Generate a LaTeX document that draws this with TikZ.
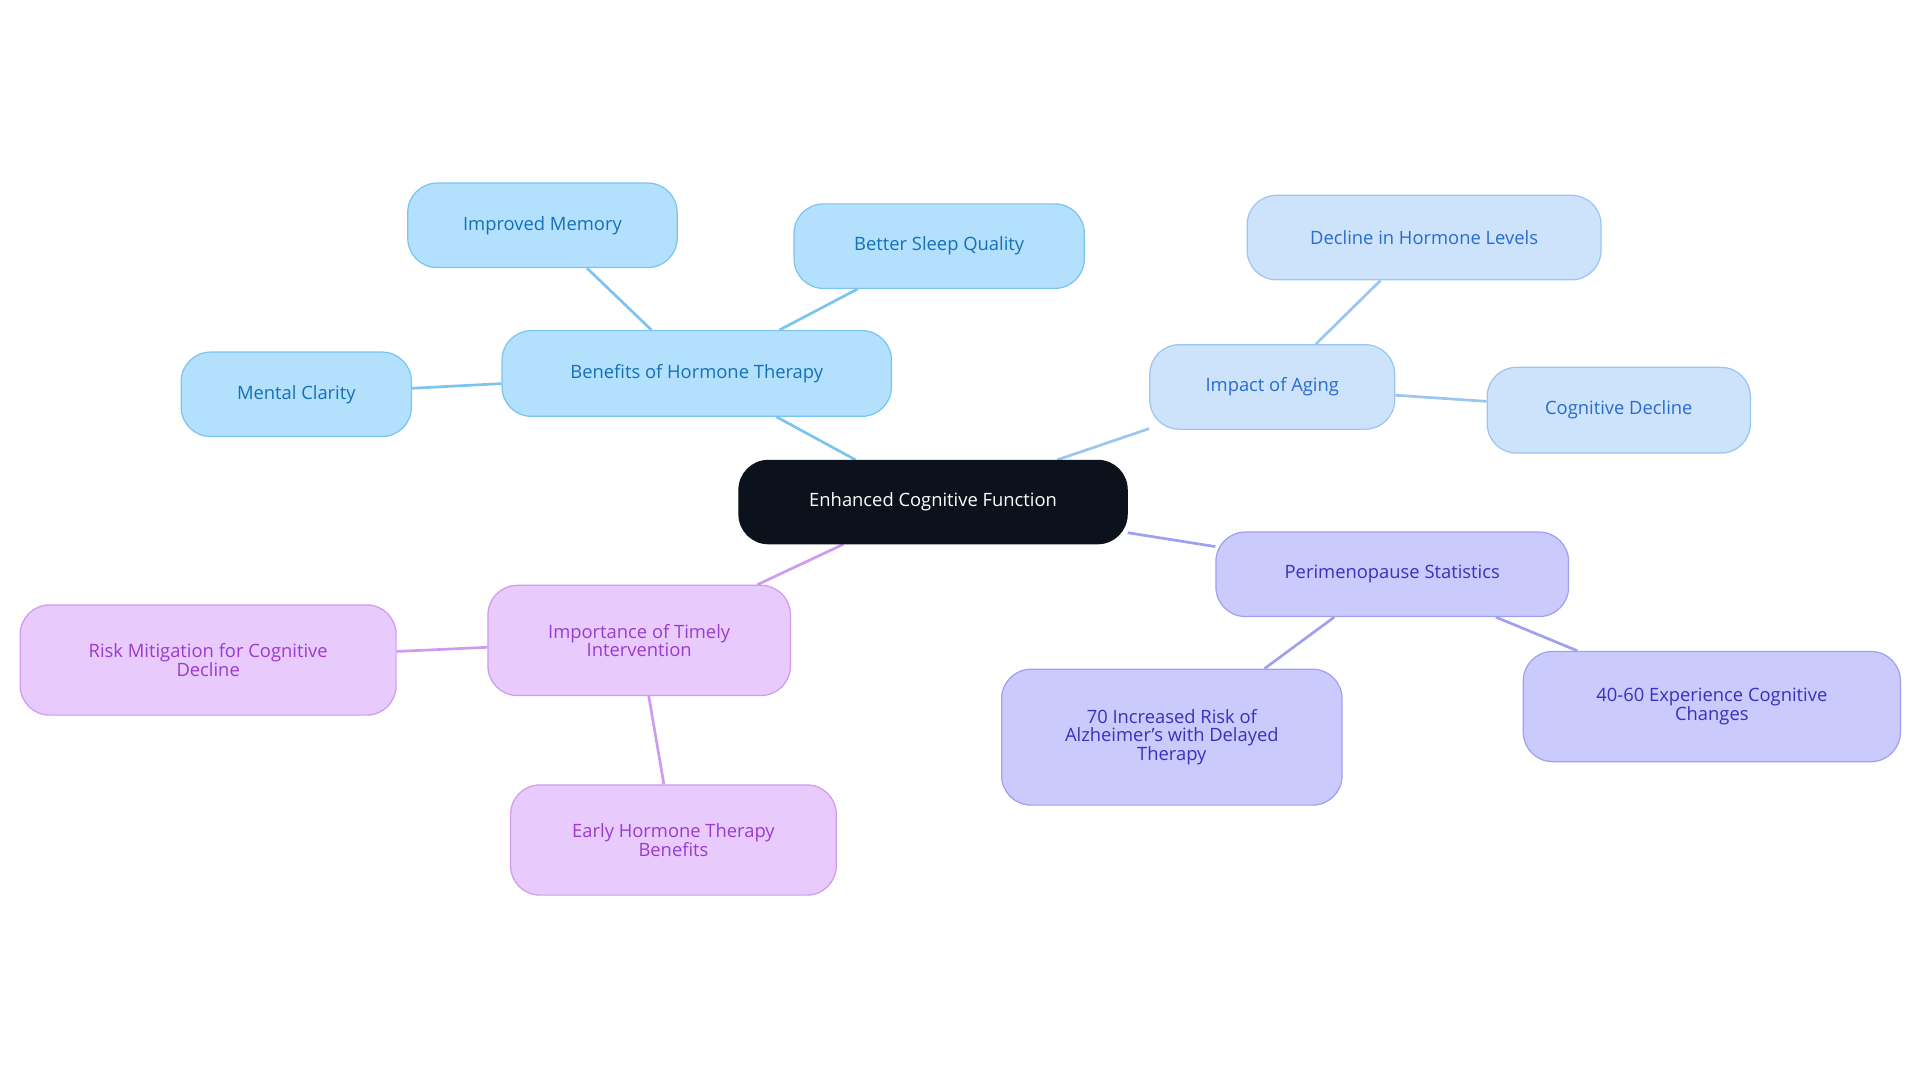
\documentclass[tikz,border=0pt]{standalone}
\usepackage{fontspec}
\setmainfont{Open Sans}
\usetikzlibrary{backgrounds}
\definecolor{cdark}{HTML}{0B121B}
\definecolor{bfill}{HTML}{B3E0FD}\definecolor{bline}{HTML}{7CC4F0}\definecolor{btext}{HTML}{1570B8}
\definecolor{afill}{HTML}{CCE3FB}\definecolor{aline}{HTML}{9CC5F0}\definecolor{atext}{HTML}{2A6BD0}
\definecolor{pfill}{HTML}{CACBFC}\definecolor{pline}{HTML}{A0A0F0}\definecolor{ptext}{HTML}{3C2FC0}
\definecolor{ifill}{HTML}{E8CAFC}\definecolor{iline}{HTML}{D09AF0}\definecolor{itext}{HTML}{9A3BD0}
\tikzset{
 box/.style={rounded corners=24pt,draw,line width=1pt,align=center,font=\fontsize{15}{15}\selectfont,inner sep=0pt},
 bb/.style={box,fill=bfill,draw=bline,text=btext},
 ab/.style={box,fill=afill,draw=aline,text=atext},
 pb/.style={box,fill=pfill,draw=pline,text=ptext},
 ib/.style={box,fill=ifill,draw=iline,text=itext},
 ed/.style={line width=2.2pt}
}
\begin{document}
\begin{tikzpicture}[x=1pt,y=-1pt]
\useasboundingbox (0,0) rectangle (1568,884);
\node[box,fill=cdark,draw=cdark,text=white,minimum width=317pt,minimum height=68pt] (c) at (762,410) {Enhanced Cognitive Function};
\node[bb,minimum width=318pt,minimum height=70pt] (b) at (569,305) {Benefits of Hormone Therapy};
\node[bb,minimum width=220pt,minimum height=69pt] (b1) at (443,184) {Improved Memory};
\node[bb,minimum width=237pt,minimum height=69pt] (b2) at (767,201) {Better Sleep Quality};
\node[bb,minimum width=188pt,minimum height=69pt] (b3) at (242,322) {Mental Clarity};
\node[ab,minimum width=200pt,minimum height=69pt] (a) at (1039,316) {Impact of Aging};
\node[ab,minimum width=289pt,minimum height=69pt] (a1) at (1163,194) {Decline in Hormone Levels};
\node[ab,minimum width=215pt,minimum height=70pt] (a2) at (1322,335) {Cognitive Decline};
\node[pb,minimum width=288pt,minimum height=69pt] (p) at (1137,469) {Perimenopause Statistics};
\node[pb,minimum width=278pt,minimum height=111pt] (p1) at (957,602) {70 Increased Risk of\\Alzheimer's with Delayed\\Therapy};
\node[pb,minimum width=308pt,minimum height=90pt] (p2) at (1398,577) {40-60 Experience Cognitive\\Changes};
\node[ib,minimum width=247pt,minimum height=90pt] (i) at (522,523) {Importance of Timely\\Intervention};
\node[ib,minimum width=307pt,minimum height=90pt] (i1) at (170,539) {Risk Mitigation for Cognitive\\Decline};
\node[ib,minimum width=266pt,minimum height=90pt] (i2) at (550,686) {Early Hormone Therapy\\Benefits};
\begin{scope}[on background layer]
\draw[ed,bline] (c) -- (b); \draw[ed,bline] (b) -- (b1); \draw[ed,bline] (b) -- (b2); \draw[ed,bline] (b) -- (b3);
\draw[ed,aline] (c) -- (a); \draw[ed,aline] (a) -- (a1); \draw[ed,aline] (a) -- (a2);
\draw[ed,pline] (c) -- (p); \draw[ed,pline] (p) -- (p1); \draw[ed,pline] (p) -- (p2);
\draw[ed,iline] (c) -- (i); \draw[ed,iline] (i) -- (i1); \draw[ed,iline] (i) -- (i2);
\end{scope}
\end{tikzpicture}
\end{document}
